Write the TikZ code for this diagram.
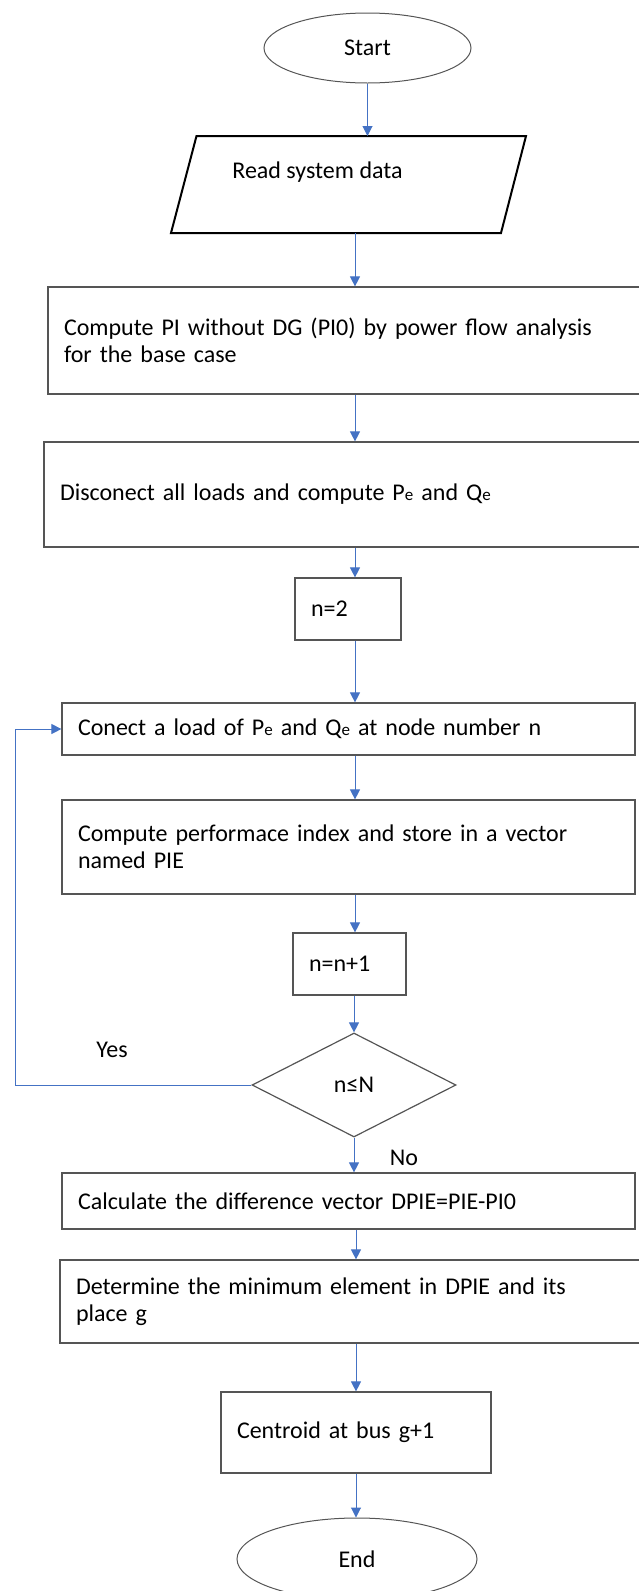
\documentclass[tikz,border=0pt]{standalone}
\usepackage{fontspec}
\setmainfont{Carlito}
\usetikzlibrary{shapes.geometric,arrows.meta}
\definecolor{arrowblue}{RGB}{68,114,196}
\definecolor{edgegray}{RGB}{85,85,85}
\newcommand{\smallsub}[1]{{\fontsize{8.5}{8.5}\selectfont #1}}

\begin{document}
\begin{tikzpicture}[x=0.5pt,y=-0.5pt,
	every node/.style={font=\fontsize{12}{13.5}\selectfont},
	procbox/.style={draw=edgegray,line width=0.6pt,rectangle,align=left,inner xsep=8pt,inner ysep=0pt},
	termbox/.style={draw=edgegray,line width=0.5pt,ellipse,inner sep=0pt},
	flowarrow/.style={draw=arrowblue,line width=0.5pt,-{Triangle[width=5pt,length=5pt]}}]
	\useasboundingbox (0,0) rectangle (638,1591);
	\coordinate (ax) at (355,0);
	\coordinate (bx) at (356,0);
	\coordinate (loopx) at (15,0);
	% main column
	\node[termbox,minimum width=103.5pt,minimum height=35pt] (start) at (367.5,48) {Start};
	% input parallelogram
	\coordinate (readtop) at (361,136);
	\coordinate (readbot) at (336,233);
	\draw[black,line width=1pt] (196.5,136) -- (526,136) -- (501,233) -- (171,233) -- cycle;
	\node (read) at (317.5,172) {Read system data};
	\node[procbox,text width=282.5pt,minimum height=53.5pt] (pi0) at (346.5,340.5) {Compute PI without DG (PI0) by power flow analysis\\for the base case};
	\node[procbox,text width=284.5pt,minimum height=52.5pt] (disc) at (344.5,494.5) {Disconect all loads and compute P\smallsub{e} and Q\smallsub{e}};
	\node[procbox,text width=37pt,minimum height=31pt] (n2) at (348,609) {n=2};
	\node[procbox,text width=270.5pt,minimum height=26pt] (load) at (348.5,729) {Conect a load of P\smallsub{e} and Q\smallsub{e} at node number n};
	\node[procbox,text width=270.5pt,minimum height=47pt] (pie) at (348.5,847) {Compute performace index and store in a vector\\named PIE};
	\node[procbox,text width=40.5pt,minimum height=31pt] (inc) at (349.5,964) {n=n+1};
	\node[draw=edgegray,line width=0.6pt,diamond,minimum width=102pt,minimum height=52pt,inner sep=0pt] (cond) at (354,1085) {n≤N};
	\node[procbox,text width=270.5pt,minimum height=28pt] (dpie) at (348.5,1201) {Calculate the difference vector DPIE=PIE-PI0};
	\node[procbox,text width=276.5pt,minimum height=41.5pt] (minel) at (352.5,1301.5) {Determine the minimum element in DPIE and its\\place g};
	\node[procbox,text width=119pt,minimum height=40.5pt] (cent) at (356,1432.5) {Centroid at bus g+1};
	\node[termbox,minimum width=120pt,minimum height=41pt] (stop) at (357,1559) {End};
	% branch labels
	\node (yes) at (112,1050) {Yes};
	\node (no) at (404,1158) {No};
	% connectors
	\draw[flowarrow] (start.south) -- (start.south |- readtop);
	\draw[flowarrow] (readbot -| ax) -- (pi0.north -| ax);
	\draw[flowarrow] (pi0.south -| ax) -- (disc.north -| ax);
	\draw[flowarrow] (disc.south -| ax) -- (n2.north -| ax);
	\draw[flowarrow] (n2.south -| ax) -- (load.north -| ax);
	\draw[flowarrow] (load.south -| ax) -- (pie.north -| ax);
	\draw[flowarrow] (pie.south -| ax) -- (inc.north -| ax);
	\draw[flowarrow] (inc.south -| cond.north) -- (cond.north);
	\draw[flowarrow] (cond.south) -- (dpie.north -| cond.south);
	\draw[flowarrow] (dpie.south -| bx) -- (minel.north -| bx);
	\draw[flowarrow] (minel.south -| bx) -- (cent.north -| bx);
	\draw[flowarrow] (cent.south -| bx) -- (stop.north -| bx);
	% loop back
	\draw[flowarrow] (cond.west) -- (cond.west -| loopx) |- (load.west);
\end{tikzpicture}
\end{document}
